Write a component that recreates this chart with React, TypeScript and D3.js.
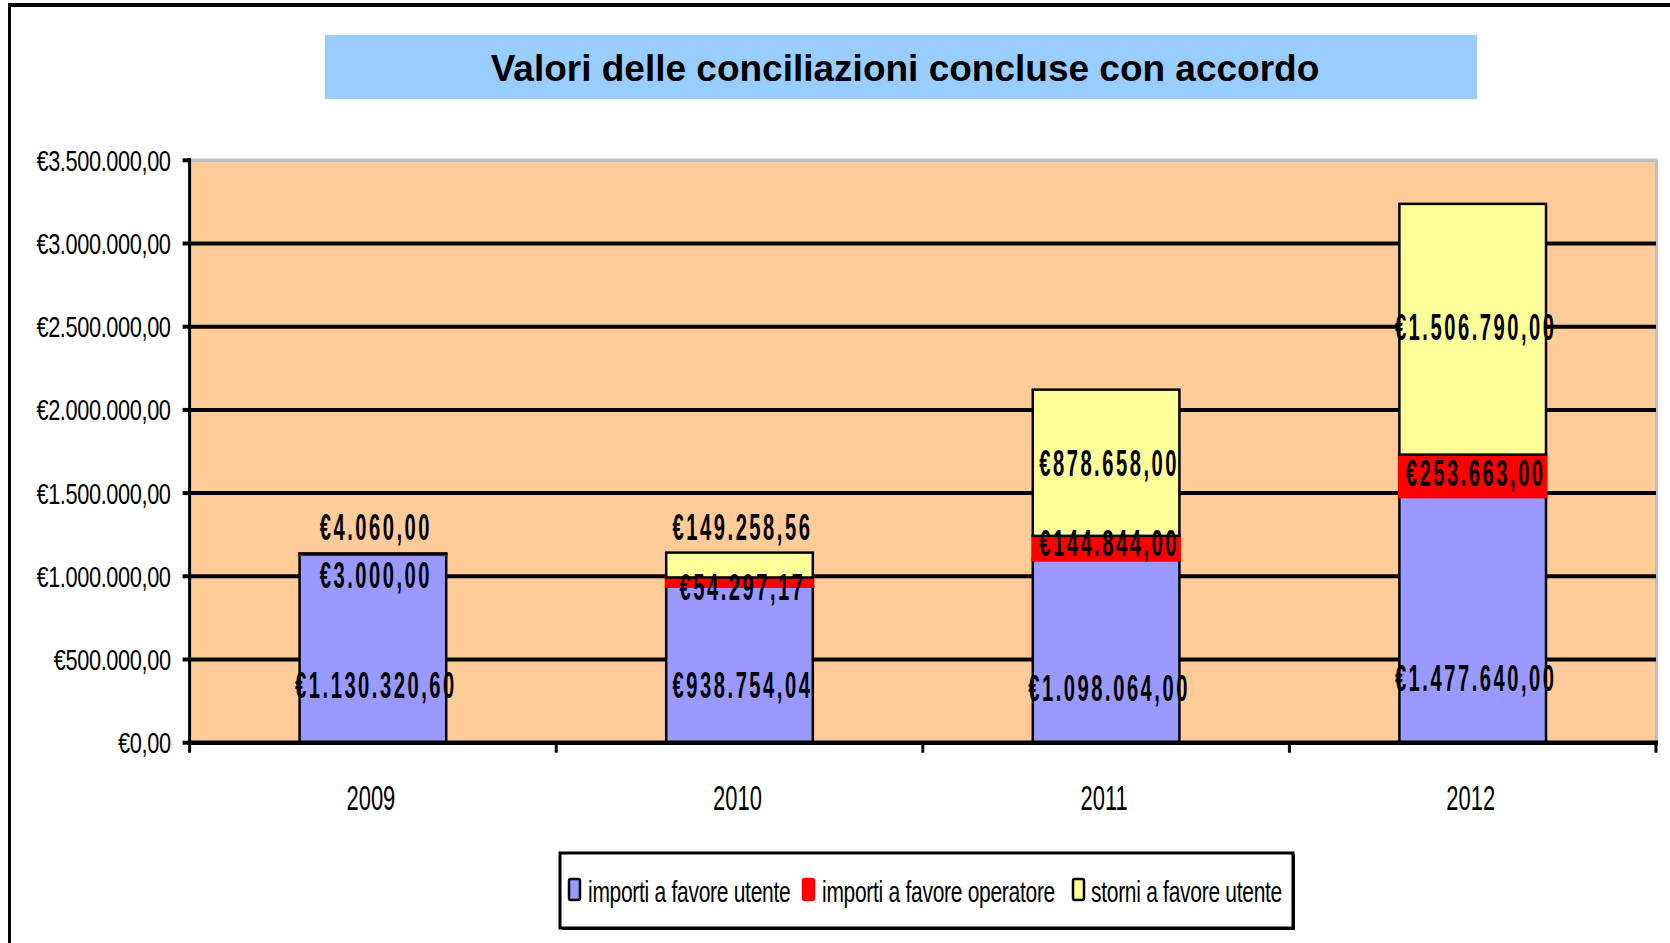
import React from "react";
import * as d3 from "d3";

const CATEGORIES = ["2009", "2010", "2011", "2012"];
const IMPORTI_UTENTE = [1130320.6, 938754.04, 1098064.0, 1477640.0];
const IMPORTI_OPERATORE = [3000.0, 54297.17, 144844.0, 253663.0];
const STORNI_UTENTE = [4060.0, 149258.56, 878658.0, 1506790.0];
const SERIES_KEYS = ["utente", "operatore", "storni"];
const SERIES_NAMES = ["importi a favore utente", "importi a favore operatore", "storni a favore utente"];
const Y_TICKS = [0, 500000, 1000000, 1500000, 2000000, 2500000, 3000000, 3500000];
// where each data label sits, in euro units (labels were placed by hand in the original)
const LABEL_AT_UTENTE = [347000, 347000, 327000, 387000];
const LABEL_AT_OPERATORE = [1008000, 937500, 1198000, 1622000];
const LABEL_AT_STORNI = [1298000, 1298000, 1679000, 2500000];
const TITLE = "Valori delle conciliazioni concluse con accordo";

const COLORS = ["#9999FF", "#FF0000", "#FFFF99"];
const STROKES = ["#000000", "#FF0000", "#000000"];

const locale = d3.formatLocale({ decimal: ",", thousands: ".", grouping: [3], currency: ["€", ""] });
const fmt = locale.format("$,.2f");

export default function App() {
  const W = 1670, H = 943;
  const left = 189.6, right = 1656, top = 160.3, bottom = 742.7;

  const x = d3.scaleBand<string>().domain(CATEGORIES).range([left, right]).paddingInner(0.6).paddingOuter(0.3);
  const y = d3.scaleLinear().domain([0, 3500000]).range([bottom, top]);

  const table = CATEGORIES.map((c, i) => ({
    cat: c,
    utente: IMPORTI_UTENTE[i],
    operatore: IMPORTI_OPERATORE[i],
    storni: STORNI_UTENTE[i],
  }));
  const stacked = d3.stack<any>().keys(SERIES_KEYS)(table);
  const labelAt = [LABEL_AT_UTENTE, LABEL_AT_OPERATORE, LABEL_AT_STORNI];
  const values = [IMPORTI_UTENTE, IMPORTI_OPERATORE, STORNI_UTENTE];

  const step = x.step();
  const boundaries = d3.range(CATEGORIES.length + 1).map((i) => left + i * step);

  const font = "'Liberation Sans', Arial, sans-serif";

  const legendItems = [
    { sw: 569, tx: 588 },
    { sw: 803, tx: 822 },
    { sw: 1073, tx: 1091 },
  ];

  return (
    <svg width={W} height={H} style={{ position: "absolute", left: 0, top: 0, background: "#fff" }}>
      <rect x={0} y={0} width={W} height={H} fill="#fff" />
      {/* outer frame */}
      <line x1={8} y1={5} x2={W} y2={5} stroke="#000" strokeWidth={4} />
      <line x1={9.5} y1={3} x2={9.5} y2={H} stroke="#000" strokeWidth={3} />

      {/* title */}
      <rect x={325} y={35} width={1152} height={64} fill="#99CCFF" />
      <text x={905} y={81} textAnchor="middle" fontFamily={font} fontWeight="bold" fontSize={37} fill="#000">
        {TITLE}
      </text>

      {/* plot area */}
      <rect x={left} y={top} width={right - left} height={bottom - top} fill="#FFCC99" />
      <line x1={left} y1={top} x2={right + 1} y2={top} stroke="#C0C0C0" strokeWidth={3.5} />
      <line x1={right + 0.5} y1={top} x2={right + 0.5} y2={bottom} stroke="#C0C0C0" strokeWidth={3} />
      {Y_TICKS.filter((t) => t > 0 && t < 3500000).map((t) => (
        <line key={t} x1={left} x2={right} y1={y(t)} y2={y(t)} stroke="#000" strokeWidth={4} />
      ))}

      {/* bars */}
      {stacked.map((s, si) => (
        <g key={s.key}>
          {s.map((d: any, i: number) => (
            <rect
              key={i}
              x={x(CATEGORIES[i])}
              y={y(d[1])}
              width={x.bandwidth()}
              height={Math.max(0, y(d[0]) - y(d[1]))}
              fill={COLORS[si]}
              stroke={STROKES[si]}
              strokeWidth={si === 1 ? 3 : 2.5}
            />
          ))}
        </g>
      ))}

      {/* axes */}
      <line x1={left} x2={right + 2} y1={bottom} y2={bottom} stroke="#000" strokeWidth={4.5} />
      <line x1={left} x2={left} y1={top - 2} y2={bottom + 2} stroke="#000" strokeWidth={3} />
      {Y_TICKS.map((t) => (
        <g key={t}>
          <line x1={left - 7} x2={left} y1={y(t)} y2={y(t)} stroke="#000" strokeWidth={4} />
          <text
            transform={`translate(${left - 19},${y(t)}) scale(0.75,1)`}
            textAnchor="end"
            dy="0.36em"
            fontFamily={font}
            fontSize={29}
            letterSpacing={-0.5}
            fill="#000"
          >
            {fmt(t)}
          </text>
        </g>
      ))}
      {boundaries.map((b, i) => (
        <line key={i} x1={b} x2={b} y1={bottom} y2={bottom + 10} stroke="#000" strokeWidth={3} />
      ))}
      {CATEGORIES.map((c) => (
        <text
          key={c}
          transform={`translate(${(x(c) as number) + x.bandwidth() / 2 - 2},${bottom + 67}) scale(0.61,1)`}
          textAnchor="middle"
          fontFamily={font}
          fontSize={36}
          fill="#000"
        >
          {c}
        </text>
      ))}

      {/* data labels */}
      {values.map((vals, si) =>
        vals.map((v, i) => (
          <text
            key={`${si}-${i}`}
            transform={`translate(${(x(CATEGORIES[i]) as number) + x.bandwidth() / 2 + 3},${y(labelAt[si][i])}) scale(0.56,1)`}
            textAnchor="middle"
            dy="0.36em"
            fontFamily={font}
            fontWeight="bold"
            fontSize={36}
            letterSpacing={4.5}
            fill="#000"
          >
            {fmt(v)}
          </text>
        ))
      )}

      {/* legend */}
      <rect x={562} y={855} width={733} height={75} fill="#000" />
      <rect x={560} y={853} width={733} height={75} fill="#fff" stroke="#000" strokeWidth={3} />
      {SERIES_NAMES.map((n, i) => (
        <g key={n}>
          <rect
            x={legendItems[i].sw}
            y={879}
            width={11}
            height={21}
            rx={2}
            fill={COLORS[i]}
            stroke={STROKES[i]}
            strokeWidth={2.5}
          />
          <text
            transform={`translate(${legendItems[i].tx},902) scale(0.7,1)`}
            fontFamily={font}
            fontSize={30}
            letterSpacing={-0.4}
            fill="#000"
          >
            {n}
          </text>
        </g>
      ))}
    </svg>
  );
}
